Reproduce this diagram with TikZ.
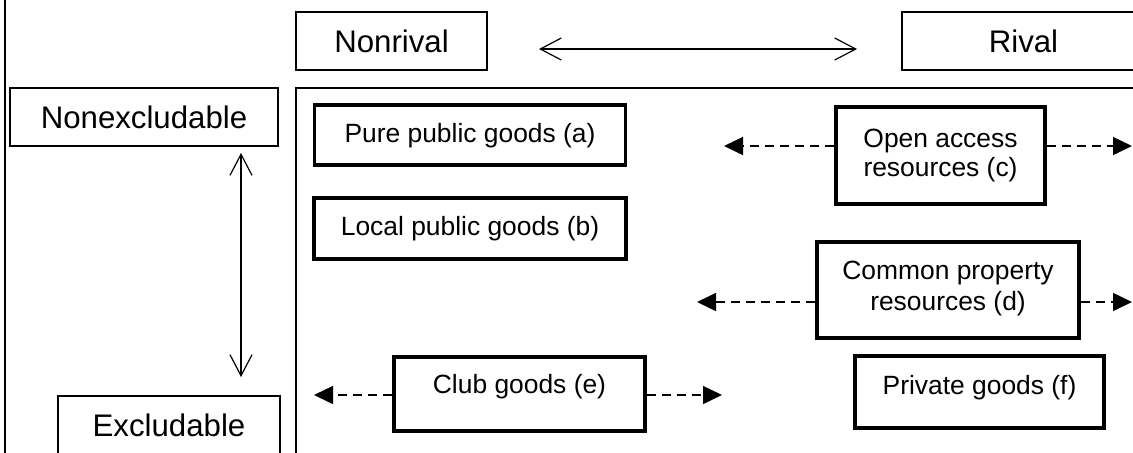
\documentclass[tikz,border=0pt]{standalone}
\usepackage{fontspec}
\setmainfont{Liberation Sans}
\usetikzlibrary{arrows.meta,calc}
\begin{document}
\begin{tikzpicture}[x=0.5pt,y=-0.5pt,
  thinbox/.style={draw, line width=0.65pt, rectangle, inner sep=0pt, font=\fontsize{15.6}{18}\selectfont},
  thickbox/.style={draw, line width=1.6pt, rectangle, inner sep=0pt},
  txt/.style={anchor=base, inner sep=0pt, font=\fontsize{13.2}{15}\selectfont},
  biarrow/.style={line width=0.6pt, {Straight Barb[length=10.5pt,width=11pt]}-{Straight Barb[length=10.5pt,width=11pt]}},
  dasharrow/.style={line width=0.75pt, dash pattern=on 4.5pt off 3pt, -{Triangle[length=9.5pt,width=9pt]}},
  frameline/.style={line width=0.75pt}
]
\useasboundingbox (0,0) rectangle (1133,452);

% frames
\draw[line width=1pt] (5,-2) -- (5,454);
\draw[frameline] (296,454) -- (296,88) -- (1136,88);

% axis labels
\node[thinbox, minimum width=95.5pt, minimum height=29pt] (nonrival) at (391.5,41) {Nonrival};
\node[thinbox, minimum width=121.5pt, minimum height=29pt] (rival) at (1023.5,41) {Rival};
\node[thinbox, minimum width=134pt, minimum height=29pt] (nonex) at (144,117) {Nonexcludable};
\node[thinbox, minimum width=111pt, minimum height=29pt] (ex) at (169,425) {Excludable};

% axis arrows
\coordinate (hL) at (539,49);
\coordinate (hR) at (857,49);
\draw[biarrow] (hL) -- (hR);
\coordinate (vT) at (241,153);
\coordinate (vB) at (241,377);
\draw[biarrow] (vT) -- (vB);

% category boxes
\node[thickbox, minimum width=155.5pt, minimum height=30pt] (a) at (470,135) {};
\node[txt] (at) at ($(a.center)+(0,7)$) {Pure public goods (a)};

\node[thickbox, minimum width=156pt, minimum height=30.5pt] (b) at (470,228.5) {};
\node[txt] (bt) at ($(b.center)+(0,6.5)$) {Local public goods (b)};

\node[thickbox, minimum width=104.5pt, minimum height=48.5pt] (c) at (940.5,155.5) {};
\node[txt] (ct1) at ($(c.center)+(0,-8.5)$) {Open access};
\node[txt] (ct2) at ($(c.center)+(0,20.5)$) {resources (c)};

\node[thickbox, minimum width=131pt, minimum height=48pt] (d) at (948,290) {};
\node[txt] (dt1) at ($(d.center)+(0,-11)$) {Common property};
\node[txt] (dt2) at ($(d.center)+(0,20)$) {resources (d)};

\node[thickbox, minimum width=125.5pt, minimum height=37pt] (e) at (519.5,394) {};
\node[txt] (et) at ($(e.center)+(0,-1)$) {Club goods (e)};

\node[thickbox, minimum width=124.5pt, minimum height=36pt] (f) at (979.5,392) {};
\node[txt] (ft) at ($(f.center)+(0,2)$) {Private goods (f)};

% dashed arrows
\coordinate (cL) at (724,146);
\coordinate (cR) at (1132,146);
\draw[dasharrow] (c.west |- cL) -- (cL);
\draw[dasharrow] (c.east |- cR) -- (cR);

\coordinate (dL) at (697,302);
\coordinate (dR) at (1132,302);
\draw[dasharrow] (d.west |- dL) -- (dL);
\draw[dasharrow] (d.east |- dR) -- (dR);

\coordinate (eL) at (314,395);
\coordinate (eR) at (722,395);
\draw[dasharrow] (e.west |- eL) -- (eL);
\draw[dasharrow] (e.east |- eR) -- (eR);
\end{tikzpicture}
\end{document}
